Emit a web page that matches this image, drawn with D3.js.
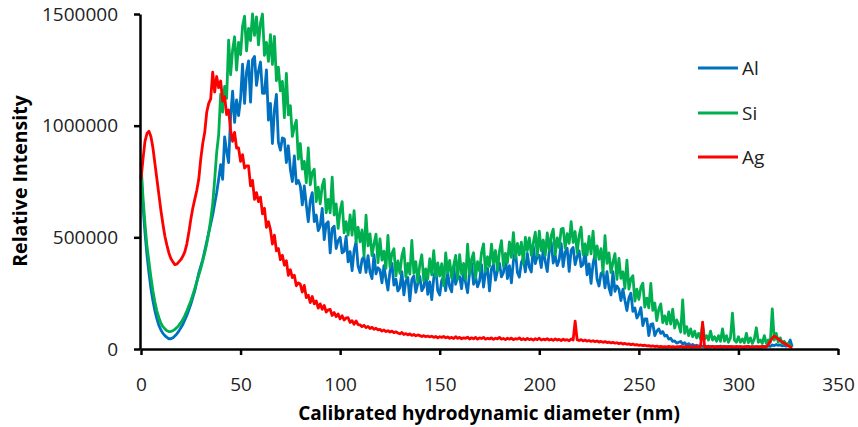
<!DOCTYPE html>
<html><head><meta charset="utf-8">
<script src="https://cdn.jsdelivr.net/npm/d3@7/dist/d3.min.js"></script>
<style>body{margin:0;background:#fff}svg{display:block}</style>
</head><body><svg id="chart" width="858" height="427"></svg>
<script>
// Values, intensity in thousands, one value per nm (0..327 nm)
const seriesNames = ["Al", "Si", "Ag"];
const seriesColors = ["#0070C0", "#00B050", "#FF0000"];
const xTickValues = [0, 50, 100, 150, 200, 250, 300, 350];
const yTickValues = [0, 500000, 1000000, 1500000];
const xTitle = "Calibrated hydrodynamic diameter (nm)";
const yTitle = "Relative Intensity";

const alK = [
780,640,520,420,340,270,215,170,135,105,
85,70,60,52,46,46,50,58,68,80,
95,110,130,150,175,200,230,260,300,340,
370,400,440,480,520,560,600,650,700,760,
825,760,950,885,835,1040,1155,1015,1115,1045,
1120,1275,1100,1240,1290,1105,1295,1310,1180,1245,
1285,1145,1145,1250,1025,1100,920,1070,1140,925,
890,945,940,835,910,805,750,865,740,755,
730,645,730,645,570,665,700,570,600,530,
550,630,490,560,570,430,540,550,450,485,
500,431,437,504,390,436,351,442,480,371,
342,401,412,343,418,344,315,422,337,364,
354,296,373,314,264,347,384,286,313,260,
274,346,242,305,320,216,311,327,254,294,
325,261,277,349,245,301,221,317,365,261,
242,307,324,261,342,279,256,369,290,323,
324,270,352,298,252,342,384,290,324,278,
304,378,277,343,362,260,359,377,308,350,
385,323,342,416,315,373,296,394,445,343,
322,388,407,345,428,366,345,459,382,416,
419,365,447,393,347,437,479,385,419,373,
399,472,369,434,451,348,442,455,378,413,
440,369,378,443,332,381,294,383,424,313,
282,338,346,274,346,274,242,346,258,282,
268,217,268,217,172,229,250,169,184,139,
155,185,105,135,135,60,110,113,60,80,
90,70,78,58,62,44,48,34,36,26,
30,34,22,28,18,24,16,20,14,17,
12,15,11,14,10,13,10,12,9,12,
10,13,9,11,10,12,9,11,8,10,
9,11,8,10,9,12,8,10,9,11,
8,10,9,12,10,14,12,18,15,20,
16,18,14,16,12,20,40,10
];

const siK = [
830,680,560,460,390,320,260,210,170,140,
115,100,90,82,78,78,82,88,96,106,
118,132,150,170,192,215,242,270,300,330,
360,395,430,470,520,580,650,760,880,960,
1141,1061,1176,1122,1383,1228,1339,1398,1249,1373,
1318,1445,1490,1335,1436,1381,1500,1404,1487,1362,
1459,1500,1315,1373,1288,1408,1274,1400,1201,1262,
1156,1198,1036,1234,1048,1090,952,994,1024,850,
920,805,840,745,900,735,790,805,660,725,
650,730,760,610,670,610,770,600,650,540,
620,660,520,570,510,600,510,620,480,545,
480,533,416,599,462,515,418,471,514,387,
493,398,438,361,509,369,427,449,327,394,
339,417,451,322,383,335,486,339,391,298,
377,422,305,359,314,404,332,440,323,386,
327,382,284,430,341,397,317,373,419,313,
423,335,383,313,469,336,402,431,317,391,
349,432,471,347,413,370,470,384,441,353,
437,485,371,428,386,479,410,521,407,473,
422,478,382,500,441,497,419,475,523,417,
528,441,488,419,520,442,507,537,422,497,
454,537,540,451,516,473,570,477,526,431,
507,546,423,471,420,504,426,528,405,462,
402,449,343,507,383,430,342,389,427,312,
406,316,346,272,398,268,314,328,214,268,
222,276,295,188,228,184,294,173,206,127,
178,202,118,148,112,166,112,178,94,130,
110,75,220,70,100,60,90,55,80,50,
70,45,110,45,60,40,80,40,55,35,
60,35,90,35,60,30,50,160,40,30,
55,30,45,28,70,28,50,25,45,95,
30,40,25,60,25,40,30,180,40,70,
30,50,25,35,20,25,15,10
];

const agK = [
760,850,930,965,975,950,900,830,760,690,
620,560,505,465,430,405,390,378,380,390,
400,415,435,470,520,580,630,670,710,760,
850,920,970,1060,1100,1120,1240,1150,1220,1170,
1200,1110,1130,1050,1070,980,930,970,900,900,
840,870,810,820,820,730,755,670,700,660,
680,605,630,545,570,535,470,510,440,450,
400,420,375,395,330,355,320,330,283,296,
290,255,285,230,241,208,235,202,215,183,
202,178,195,165,175,177,150,163,145,157,
135,149,130,139,140,119,127,111,126,109,
108,100,106,96,101,92,97,88,93,86,
88,80,85,78,82,76,80,73,77,72,
68,74,65,69,63,68,61,65,59,63,
60,56,60,55,58,54,57,52,56,50,
55,52,56,50,54,48,52,47,55,48,
52,46,50,48,53,45,50,46,52,44,
50,47,52,44,48,45,50,43,48,45,
52,44,47,42,48,44,49,42,46,44,
50,42,46,41,47,42,45,40,46,42,
48,40,44,41,46,40,44,39,45,40,
43,38,44,39,42,37,45,40,125,42,
38,42,36,40,35,38,34,37,33,36,
31,34,30,33,29,31,27,30,26,28,
24,27,22,25,21,23,19,22,18,20,
16,18,15,17,14,15,12,14,11,13,
10,12,10,11,9,12,10,11,9,10,
10,12,9,11,10,12,10,11,9,12,
10,11,120,10,9,11,10,12,9,10,
11,9,10,12,9,10,11,9,10,12,
9,11,10,9,12,10,9,11,10,9,
11,10,12,10,11,20,35,48,58,52,
44,38,30,26,20,14,10,5
];

const seriesValuesK = [alK, siK, agK];

const svg = d3.select("#chart");
const FONT = "'Open Sans', 'DejaVu Sans', sans-serif";

const x = d3.scaleLinear().domain([0, 350]).range([141, 838]);
const y = d3.scaleLinear().domain([0, 1500000]).range([349, 14]);

const line = d3.line()
  .x((d, i) => x(i))
  .y(d => y(d * 1000))
  .curve(d3.curveLinear);

seriesValuesK.forEach((vals, k) => {
  svg.append("path")
    .datum(vals)
    .attr("fill", "none")
    .attr("stroke", seriesColors[k])
    .attr("stroke-width", 2.8)
    .attr("stroke-linejoin", "round")
    .attr("d", line);
});

const yAxis = d3.axisLeft(y).tickValues(yTickValues).tickSize(6).tickSizeOuter(0)
  .tickPadding(16).tickFormat(d3.format("d"));
const xAxis = d3.axisBottom(x).tickValues(xTickValues).tickSize(6).tickSizeOuter(0)
  .tickPadding(23).tickFormat(d3.format("d"));

const gy = svg.append("g").attr("transform", "translate(140,0)").call(yAxis);
const gx = svg.append("g").attr("transform", "translate(0,349)").call(xAxis);
[gx, gy].forEach(g => {
  g.select(".domain").attr("stroke", "#000").attr("stroke-width", 2.5);
  g.selectAll(".tick line").attr("stroke", "#000").attr("stroke-width", 2.5);
  g.selectAll(".tick text").attr("fill", "#222").style("font-family", FONT).style("font-size", "19px");
});

svg.append("text")
  .attr("x", 489).attr("y", 420)
  .attr("text-anchor", "middle")
  .style("font-family", FONT).style("font-size", "19px").style("font-weight", "bold")
  .attr("fill", "#000")
  .text(xTitle);

svg.append("text")
  .attr("transform", "translate(27,181) rotate(-90)")
  .attr("text-anchor", "middle")
  .style("font-family", FONT).style("font-size", "19.5px").style("font-weight", "bold")
  .attr("fill", "#000")
  .text(yTitle);

const legendY = [68, 113, 157];
seriesNames.forEach((name, k) => {
  svg.append("line")
    .attr("x1", 698).attr("x2", 738)
    .attr("y1", legendY[k]).attr("y2", legendY[k])
    .attr("stroke", seriesColors[k]).attr("stroke-width", 3);
  svg.append("text")
    .attr("x", 742).attr("y", legendY[k] + 7)
    .style("font-family", FONT).style("font-size", "19px")
    .attr("fill", "#222")
    .text(name);
});
</script>
</body></html>
